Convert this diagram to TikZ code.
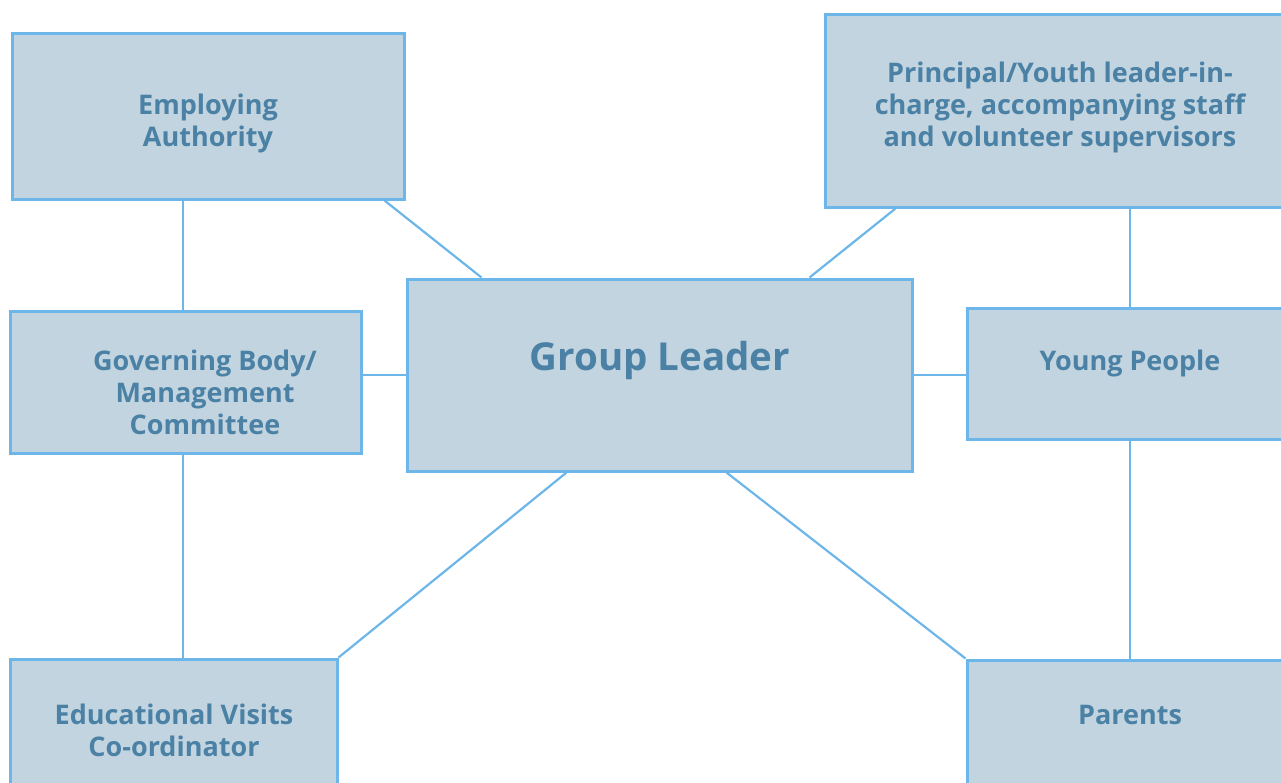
\documentclass[tikz,border=0pt]{standalone}
\usepackage{fontspec}
\setmainfont{Open Sans}
\usepackage{tikz}
\usepackage{xcolor}
\definecolor{glFill}{HTML}{C1D4DF}
\definecolor{glEdge}{HTML}{6CB6EA}
\definecolor{glInk}{HTML}{4A81A5}
\tikzset{
  box/.style={draw=glEdge,fill=glFill,line width=3pt,inner sep=0pt},
  txt/.style={align=center,text=glInk,font=\fontsize{27}{32}\selectfont\bfseries,inner sep=0pt},
  big/.style={txt,font=\fontsize{38.5}{44}\selectfont\bfseries},
  link/.style={draw=glEdge,line width=2.2pt},
}
\begin{document}
\begin{tikzpicture}[x=1pt,y=-1pt]
    \useasboundingbox (0,0) rectangle (1281,782);
    \clip (0,0) rectangle (1281,782);
    % boxes
    \node[box,minimum width=392pt,minimum height=166pt] at (208,116)   (ea)  {};
    \node[box,minimum width=470pt,minimum height=193pt] at (1060,110.5) (pyl) {};
    \node[box,minimum width=505pt,minimum height=192pt] at (659.5,375) (gl)  {};
    \node[box,minimum width=351pt,minimum height=142pt] at (185.5,382) (gb)  {};
    \node[box,minimum width=326pt,minimum height=131pt] at (1130,373.5) (yp) {};
    \node[box,minimum width=327pt,minimum height=150pt] at (173.5,734) (evc) {};
    \node[box,minimum width=326pt,minimum height=150pt] at (1130,735) (par) {};

    % texts
    \node[txt] at (208,123)  (eaT)  {Employing\\Authority};
    \node[txt] at (1060,107) (pylT) {Principal/Youth leader-in-\\charge, accompanying staff\\and volunteer supervisors};
    \node[big] at (660,360)  (glT)  {Group Leader};
    \node[txt] at (205,392)  (gbT)  {Governing Body/\\Management\\Committee};
    \node[txt] at (1130,363) (ypT)  {Young People};
    \node[txt] at (174,730)  (evcT) {Educational Visits\\Co-ordinator};
    \node[txt] at (1130,715) (parT) {Parents};

    % links
    \draw[link] ([xshift=-2.5pt]ea.south -| gb.north) -- ([xshift=-2.5pt]gb.north);
    \draw[link] ([xshift=-21pt]ea.south east) -- ([xshift=76pt]gl.north west);
    \draw[link] (gl.west -| gb.east) -- (gl.west);
    \draw[link] ([xshift=-2.5pt]gb.south) -- ([xshift=-2.5pt]gb.south |- evc.north);
    \draw[link] ([xshift=161pt]gl.south west) -- (evc.north east);
    \draw[link] ([xshift=72pt]pyl.south west) -- ([xshift=-104pt]gl.north east);
    \draw[link] (yp.north |- pyl.south) -- (yp.north);
    \draw[link] (gl.east) -- (gl.east -| yp.west);
    \draw[link] ([xshift=-187pt]gl.south east) -- (par.north west);
    \draw[link] (yp.south) -- (yp.south |- par.north);
\end{tikzpicture}
\end{document}
